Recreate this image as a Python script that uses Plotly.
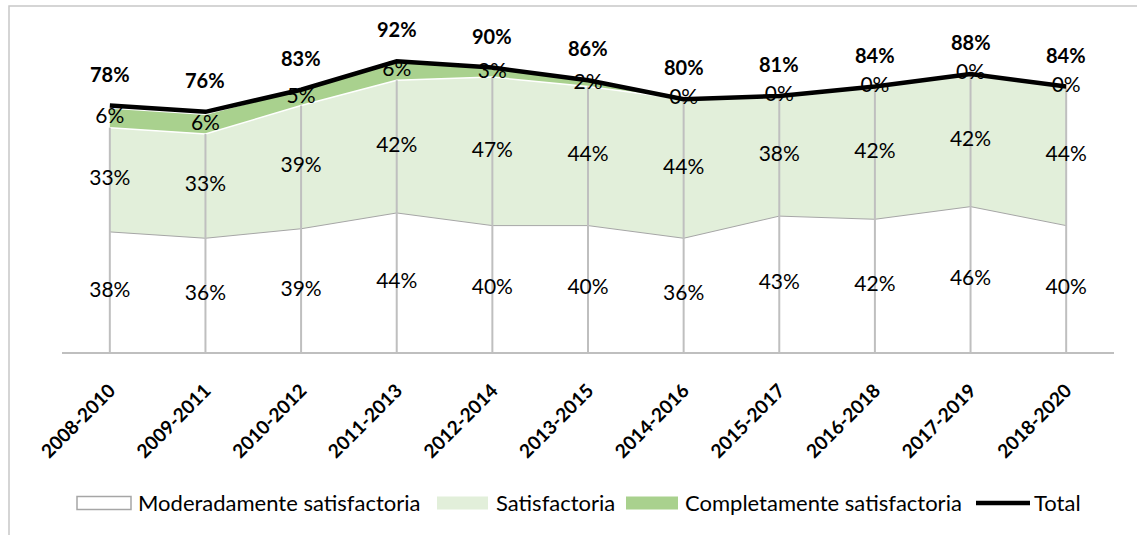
import plotly.graph_objects as go

periodos = ["2008-2010", "2009-2011", "2010-2012", "2011-2013", "2012-2014", "2013-2015",
            "2014-2016", "2015-2017", "2016-2018", "2017-2019", "2018-2020"]
moderada = [38, 36, 39, 44, 40, 40, 36, 43, 42, 46, 40]
satisf = [33, 33, 39, 42, 47, 44, 44, 38, 42, 42, 44]
completa = [6, 6, 5, 6, 3, 2, 0, 0, 0, 0, 0]
total = [78, 76, 83, 92, 90, 86, 80, 81, 84, 88, 84]

FONT = "Lato"
W, H = 1137, 535
L, R, T, B = 62, 23, 36, 183
pw, ph = W - L - R, H - T - B


def px(x):
    return (x - L) / pw


def py(y):
    return (H - B - y) / ph


# stacked tops
top1 = moderada
top2 = [a + b for a, b in zip(moderada, satisf)]
top3 = [a + b for a, b in zip(top2, completa)]

fig = go.Figure()

fig.add_trace(go.Scatter(x=periodos, y=top1, mode="lines", fill="tozeroy",
                         fillcolor="#ffffff", line=dict(color="#a6a6a6", width=1),
                         name="Moderadamente satisfactoria"))
fig.add_trace(go.Scatter(x=periodos, y=top2, mode="lines", fill="tonexty",
                         fillcolor="#e2efda", line=dict(color="#ffffff", width=1.5),
                         name="Satisfactoria"))
fig.add_trace(go.Scatter(x=periodos, y=top3, mode="lines", fill="tonexty",
                         fillcolor="#a9d18e", line=dict(color="#a9d18e", width=0),
                         name="Completamente satisfactoria"))

# drop lines
dx, dy = [], []
for p, v in zip(periodos, top2):
    dx += [p, p, None]
    dy += [0, v, None]
fig.add_trace(go.Scatter(x=dx, y=dy, mode="lines", line=dict(color="#bfbfbf", width=2),
                         hoverinfo="skip"))

fig.add_trace(go.Scatter(x=periodos, y=total, mode="lines", line=dict(color="#000000", width=4.5),
                         name="Total"))

# segment labels (middle of each band)
lab_font = dict(family=FONT, size=21, color="#000000")
mid1 = [v / 2 for v in moderada]
mid2 = [a + b / 2 for a, b in zip(top1, satisf)]
mid3 = [a + b / 2 for a, b in zip(top2, completa)]
for mids, vals in [(mid1, moderada), (mid2, satisf), (mid3, completa)]:
    fig.add_trace(go.Scatter(x=periodos, y=mids, mode="text", text=[f"{v}%" for v in vals],
                             textfont=lab_font, textposition="middle center",
                             hoverinfo="skip", cliponaxis=False))

for p, v in zip(periodos, total):
    fig.add_annotation(x=p, y=v, text=f"<b>{v}%</b>", showarrow=False, yshift=32,
                       font=dict(family=FONT, size=20, color="#000000"))

# outer frame (chart border, partially cropped)
fig.add_shape(type="rect", xref="paper", yref="paper",
              x0=px(9), x1=px(W + 20), y0=py(H + 20), y1=py(6),
              line=dict(color="#c8c8c8", width=1.5), fillcolor="rgba(0,0,0,0)", layer="below")

# legend drawn by hand (Excel style swatches)
ly = 503
swatches = [
    ("rect", 77, 131, dict(color="#a6a6a6", width=1.5), "#ffffff", "Moderadamente satisfactoria", 136),
    ("rect", 437, 488, dict(width=0), "#e2efda", "Satisfactoria", 494),
    ("rect", 626, 678, dict(width=0), "#a9d18e", "Completamente satisfactoria", 683),
    ("line", 976, 1030, dict(color="#000000", width=4.5), None, "Total", 1032),
]
for kind, x0, x1, ln, fc, label, tx in swatches:
    if kind == "rect":
        fig.add_shape(type="rect", xref="paper", yref="paper", x0=px(x0), x1=px(x1),
                      y0=py(ly + 6.5), y1=py(ly - 6.5), line=ln, fillcolor=fc)
    else:
        fig.add_shape(type="line", xref="paper", yref="paper", x0=px(x0), x1=px(x1),
                      y0=py(ly), y1=py(ly), line=ln)
    fig.add_annotation(xref="paper", yref="paper", x=px(tx), y=py(ly), text=label,
                       showarrow=False, xanchor="left", yanchor="middle",
                       font=dict(family=FONT, size=22, color="#000000"))

fig.update_layout(
    width=W, height=H,
    margin=dict(l=L, r=R, t=T, b=B, autoexpand=False),
    paper_bgcolor="white", plot_bgcolor="white",
    font=dict(family=FONT, color="#000000"),
    xaxis=dict(range=[-0.5, 10.5], showgrid=False, showline=True, linecolor="#bfbfbf",
               linewidth=2, ticks="outside", ticklen=18, tickcolor="rgba(0,0,0,0)",
               tickangle=-45, automargin=False,
               tickfont=dict(family=FONT, size=19, color="#000000", weight="bold"),
               fixedrange=True),
    yaxis=dict(range=[0, 100], visible=False, fixedrange=True),
    showlegend=False,
)

# the page's default body margin would shift the chart by 8px
fig.write_html("out.html", config={"displayModeBar": False},
               post_script="document.body.style.margin='0';")
